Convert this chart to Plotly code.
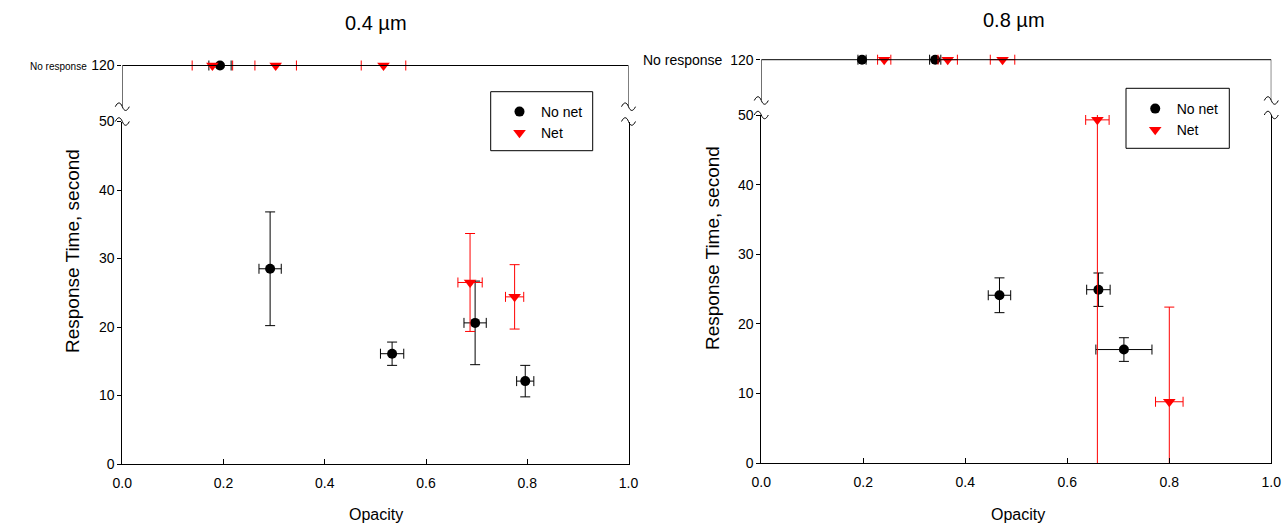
import plotly.graph_objects as go

NO_RESPONSE = 120

# ---------------- 0.4 um panel ----------------
l_nonet_x = [0.292, 0.533, 0.697, 0.796]
l_nonet_y = [28.5, 16.1, 20.6, 12.1]
l_nonet_xerr = [0.022, 0.023, 0.022, 0.017]
l_nonet_yerr = [8.3, 1.7, 6.1, 2.3]
l_net_x = [0.687, 0.775]
l_net_y = [26.5, 24.4]
l_net_xerr = [0.024, 0.018]
l_net_yerr = [7.15, 4.7]
# "No response" points (plotted at 120)
l_nonet_nr_x = [0.193]
l_nonet_nr_xerr = [0.022]
l_net_nr_x = [0.178, 0.303, 0.516]
l_net_nr_xerr = [0.040, 0.041, 0.044]

# ---------------- 0.8 um panel ----------------
r_nonet_x = [0.467, 0.661, 0.711]
r_nonet_y = [24.1, 24.9, 16.3]
r_nonet_xerr = [0.022, 0.023, 0.055]
r_nonet_yerr = [2.5, 2.4, 1.7]
r_net_x = [0.659, 0.800]
r_net_y = [49.3, 8.8]
r_net_xerr = [0.023, 0.027]
r_net_yerr = [55.0, 13.6]
r_nonet_nr_x = [0.1975, 0.341]
r_nonet_nr_xerr = [0.008, 0.011]
r_net_nr_x = [0.241, 0.3655, 0.473]
r_net_nr_xerr = [0.013, 0.019, 0.024]

panel_titles = ["0.4 \u00b5m", "0.8 \u00b5m"]
x_ticks = [0.0, 0.2, 0.4, 0.6, 0.8, 1.0]
x_ticktext = ["0.0", "0.2", "0.4", "0.6", "0.8", "1.0"]
y_ticks = [0, 10, 20, 30, 40, 50]

W, H = 1287, 527
RED = "#ff0000"
BLACK = "#000000"
FONT = "Liberation Sans, Arial, sans-serif"


def px(v):
    return v / W


def py(v):
    return 1 - v / H


fig = go.Figure()


def add_series(x, y, xe, ye, xa, ya, color, symbol, size, name, legend, showlegend):
    err_y = dict(type="data", array=ye, color=color, thickness=1, width=5) if ye is not None else None
    fig.add_trace(go.Scatter(
        x=x, y=y, mode="markers", name=name,
        xaxis=xa, yaxis=ya, legend=legend, showlegend=showlegend,
        marker=dict(color=color, symbol=symbol, size=size, line=dict(width=0)),
        error_x=dict(type="data", array=xe, color=color, thickness=1, width=5),
        error_y=err_y,
        cliponaxis=(ye is not None),
    ))


# left lower
add_series(l_nonet_x, l_nonet_y, l_nonet_xerr, l_nonet_yerr, "x", "y", BLACK, "circle", 10, "No net", "legend", True)
add_series(l_net_x, l_net_y, l_net_xerr, l_net_yerr, "x", "y", RED, "triangle-down", 11, "Net", "legend", True)
# left upper (no response)
add_series(l_nonet_nr_x, [NO_RESPONSE] * len(l_nonet_nr_x), l_nonet_nr_xerr, None, "x", "y2", BLACK, "circle", 10, "No net", "legend", False)
add_series(l_net_nr_x, [NO_RESPONSE] * len(l_net_nr_x), l_net_nr_xerr, None, "x", "y2", RED, "triangle-down", 11, "Net", "legend", False)
# right lower
add_series(r_nonet_x, r_nonet_y, r_nonet_xerr, r_nonet_yerr, "x2", "y3", BLACK, "circle", 10, "No net", "legend2", True)
add_series(r_net_x, r_net_y, r_net_xerr, r_net_yerr, "x2", "y3", RED, "triangle-down", 11, "Net", "legend2", True)
# right upper
add_series(r_nonet_nr_x, [NO_RESPONSE] * len(r_nonet_nr_x), r_nonet_nr_xerr, None, "x2", "y4", BLACK, "circle", 10, "No net", "legend2", False)
add_series(r_net_nr_x, [NO_RESPONSE] * len(r_net_nr_x), r_net_nr_xerr, None, "x2", "y4", RED, "triangle-down", 11, "Net", "legend2", False)

xcommon = dict(range=[0, 1], tickvals=x_ticks, ticktext=x_ticktext, ticks="inside", ticklen=5,
               tickcolor=BLACK, showline=True, linecolor=BLACK, linewidth=1, showgrid=False,
               zeroline=False, mirror=False, tickfont=dict(size=14), ticklabelstandoff=6,
               automargin=False)
ylow = dict(range=[0, 50], tickvals=y_ticks, ticks="outside", ticklen=4, tickcolor=BLACK,
            showline=True, mirror=True, linecolor=BLACK, linewidth=1, showgrid=False,
            zeroline=False, tickfont=dict(size=14), automargin=False)
yup = dict(tickvals=[NO_RESPONSE], ticktext=["120"], ticks="outside", ticklen=4, tickcolor=BLACK,
           showline=False, showgrid=False, zeroline=False, tickfont=dict(size=14), automargin=False)

# pixel geometry of the two panels (left/right edges, bottom, y=50 level, break, y=120 level)
L_X = [122.3, 628.5]
R_X = [761.3, 1271.3]
L_Y = dict(bottom=464, top50=121.5, brk=106.7, top=58, line120=65.5)
R_Y = dict(bottom=463, top50=115, brk=100.5, top=52, line120=59.7)


def up_range(g):
    frac = (g["brk"] - g["line120"]) / (g["brk"] - g["top"])
    return [110, 110 + 10 / frac]


fig.update_layout(
    template="none",
    width=W, height=H, margin=dict(l=0, r=0, t=0, b=0, autoexpand=False),
    paper_bgcolor="white", plot_bgcolor="white",
    font=dict(family=FONT, size=14, color=BLACK),
    xaxis=dict(domain=[px(L_X[0]), px(L_X[1])], anchor="y", **xcommon),
    yaxis=dict(domain=[py(L_Y["bottom"]), py(L_Y["top50"])], anchor="x", **ylow),
    yaxis2=dict(domain=[py(L_Y["brk"]), py(L_Y["top"])], range=up_range(L_Y), anchor="x", **yup),
    xaxis2=dict(domain=[px(R_X[0]), px(R_X[1])], anchor="y3", **xcommon),
    yaxis3=dict(domain=[py(R_Y["bottom"]), py(R_Y["top50"])], anchor="x2", **ylow),
    yaxis4=dict(domain=[py(R_Y["brk"]), py(R_Y["top"])], range=up_range(R_Y), anchor="x2", **yup),
    legend=dict(x=px(498), y=py(96), xanchor="left", yanchor="top", bgcolor="rgba(0,0,0,0)",
                borderwidth=0, font=dict(size=14), tracegroupgap=0, itemwidth=33),
    legend2=dict(x=px(1133.7), y=py(93), xanchor="left", yanchor="top", bgcolor="rgba(0,0,0,0)",
                 borderwidth=0, font=dict(size=14), tracegroupgap=0, itemwidth=33),
)

shapes = []
line = dict(color=BLACK, width=1)


def squiggle(X, Y):
    # small "~" break mark centred at pixel (X, Y), expressed in paper coordinates
    pts = [(-7, 0), (-4.5, -5), (-2, -5), (0, 0), (2, 5), (4.5, 5), (7, 0)]
    c = [(px(X + dx), py(Y + dy)) for dx, dy in pts]
    return ("M{:.5f},{:.5f} C{:.5f},{:.5f} {:.5f},{:.5f} {:.5f},{:.5f} C{:.5f},{:.5f} {:.5f},{:.5f} {:.5f},{:.5f}"
            .format(*[v for p in c for v in p]))


for xa, yup_ax, (xl, xr), g in [("x", "y2", L_X, L_Y), ("x2", "y4", R_X, R_Y)]:
    r0 = 110
    shapes.append(dict(type="line", xref=xa, yref=yup_ax, x0=0, x1=1, y0=NO_RESPONSE, y1=NO_RESPONSE, line=line))
    shapes.append(dict(type="line", xref=xa, yref=yup_ax, x0=0, x1=0, y0=r0, y1=NO_RESPONSE, line=line))
    shapes.append(dict(type="line", xref=xa, yref=yup_ax, x0=1, x1=1, y0=r0, y1=NO_RESPONSE, line=line))
    for X in (xl, xr):
        for Y in (g["brk"], g["top50"]):
            shapes.append(dict(type="path", xref="paper", yref="paper", path=squiggle(X, Y), line=line))

# legend boxes
shapes.append(dict(type="rect", xref="paper", yref="paper", x0=px(490.7), x1=px(592.7), y0=py(150.7), y1=py(91.7), line=line))
shapes.append(dict(type="rect", xref="paper", yref="paper", x0=px(1126), x1=px(1229.3), y0=py(148.3), y1=py(88.3), line=line))
fig.update_layout(shapes=shapes)

C = dict(xref="paper", yref="paper", showarrow=False, xanchor="center", yanchor="middle")
ann = []
ann.append(dict(text=panel_titles[0], x=px(376), y=py(23), font=dict(size=20), **C))
ann.append(dict(text=panel_titles[1], x=px(1014), y=py(20), font=dict(size=20), **C))
ann.append(dict(text="Opacity", x=px(376), y=py(514), font=dict(size=16), **C))
ann.append(dict(text="Opacity", x=px(1018), y=py(514), font=dict(size=16), **C))
ann.append(dict(text="Response Time, second", x=px(72), y=py(251), textangle=-90, font=dict(size=19), **C))
ann.append(dict(text="Response Time, second", x=px(712), y=py(248), textangle=-90, font=dict(size=19), **C))
ann.append(dict(text="No response", x=px(89), y=py(66), xref="paper", yref="paper", xanchor="right",
                yanchor="middle", showarrow=False, font=dict(size=10)))
ann.append(dict(text="No response", x=px(725), y=py(60), xref="paper", yref="paper", xanchor="right",
                yanchor="middle", showarrow=False, font=dict(size=14)))
fig.update_layout(annotations=ann)

fig.write_html("out.html", config={"displayModeBar": False},
               post_script="document.body.style.margin='0px';")
